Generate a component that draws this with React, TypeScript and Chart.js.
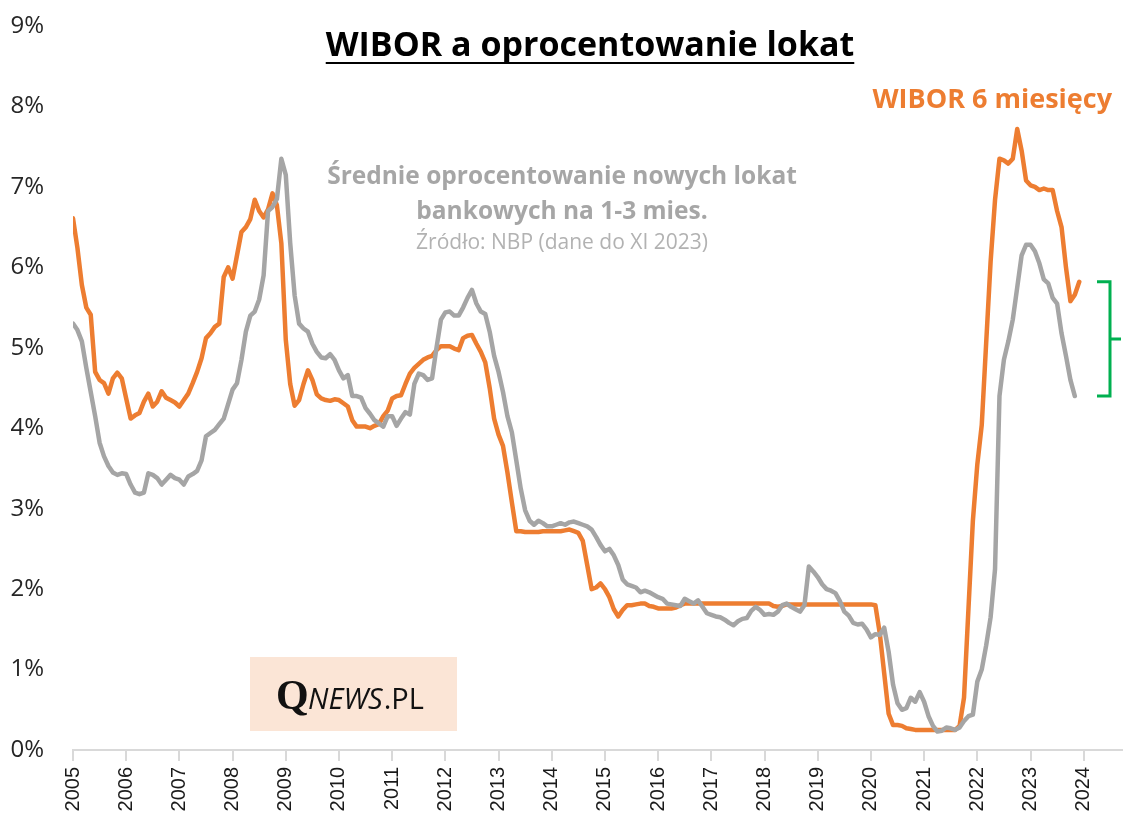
import { useEffect, useRef } from "react";
import { Chart, registerables } from "chart.js";

Chart.register(...registerables);

// Monthly data, first value = January 2005
const START_YEAR = 2005;

// WIBOR 6M (%), Jan 2005 - Dec 2023
const wibor6m = [
  6.61, 6.24, 5.78, 5.5, 5.41, 4.7, 4.6, 4.56, 4.43, 4.62, 4.69, 4.62,
  4.37, 4.12, 4.16, 4.19, 4.33, 4.43, 4.27, 4.33, 4.46, 4.38, 4.35, 4.32,
  4.27, 4.35, 4.43, 4.56, 4.7, 4.87, 5.12, 5.18, 5.26, 5.3, 5.88, 6.0,
  5.86, 6.15, 6.44, 6.5, 6.6, 6.84, 6.7, 6.62, 6.72, 6.92, 6.77, 6.3,
  5.1, 4.55, 4.28, 4.35, 4.55, 4.72, 4.6, 4.42, 4.37, 4.35, 4.34, 4.36,
  4.35, 4.31, 4.27, 4.1, 4.02, 4.02, 4.02, 4.0, 4.03, 4.05, 4.15, 4.22,
  4.37, 4.4, 4.41, 4.55, 4.68, 4.75, 4.8, 4.85, 4.88, 4.9, 4.97, 5.02,
  5.02, 5.02, 4.99, 4.97, 5.12, 5.15, 5.16, 5.05, 4.95, 4.82, 4.5, 4.12,
  3.92, 3.78, 3.45, 3.08, 2.72, 2.72, 2.71, 2.71, 2.71, 2.71, 2.72, 2.72,
  2.72, 2.72, 2.72, 2.73, 2.74, 2.72, 2.7, 2.6, 2.3, 2.0, 2.02, 2.07,
  2.0, 1.9, 1.75, 1.66, 1.74, 1.8, 1.8, 1.81, 1.82, 1.82, 1.79, 1.78,
  1.76, 1.76, 1.76, 1.76, 1.77, 1.8, 1.82, 1.82, 1.82, 1.82, 1.82, 1.82,
  1.82, 1.82, 1.82, 1.82, 1.82, 1.82, 1.82, 1.82, 1.82, 1.82, 1.82, 1.82,
  1.82, 1.82, 1.79, 1.78, 1.79, 1.81, 1.81, 1.81, 1.81, 1.81, 1.81, 1.81,
  1.81, 1.81, 1.81, 1.81, 1.81, 1.81, 1.81, 1.81, 1.81, 1.81, 1.81, 1.81,
  1.81, 1.8, 1.45, 0.95, 0.45, 0.31, 0.31, 0.3, 0.27, 0.26, 0.25, 0.25,
  0.25, 0.25, 0.25, 0.25, 0.25, 0.25, 0.25, 0.25, 0.3, 0.65, 1.75, 2.85,
  3.55, 4.04, 5.06, 6.07, 6.84, 7.35, 7.33, 7.29, 7.35, 7.72, 7.45, 7.08,
  7.02, 7.0, 6.96, 6.98, 6.96, 6.96, 6.7, 6.5, 6.0, 5.58, 5.66, 5.82,
];

// Average rate on new 1-3 month bank deposits (%), Jan 2005 - Nov 2023
const deposits = [
  5.3, 5.22, 5.08, 4.75, 4.45, 4.15, 3.82, 3.65, 3.53, 3.45, 3.42, 3.44,
  3.43, 3.3, 3.2, 3.18, 3.2, 3.44, 3.42, 3.38, 3.3, 3.36, 3.42, 3.38,
  3.36, 3.3, 3.4, 3.43, 3.47, 3.6, 3.9, 3.94, 3.98, 4.05, 4.12, 4.3,
  4.48, 4.56, 4.85, 5.2, 5.4, 5.45, 5.6, 5.9, 6.7, 6.75, 6.85, 7.35,
  7.15, 6.3, 5.65, 5.3, 5.24, 5.2, 5.05, 4.95, 4.88, 4.87, 4.92, 4.85,
  4.72, 4.62, 4.66, 4.4, 4.4, 4.38, 4.25, 4.18, 4.1, 4.06, 4.02, 4.15,
  4.15, 4.03, 4.12, 4.2, 4.17, 4.55, 4.68, 4.66, 4.6, 4.62, 5.0, 5.35,
  5.44, 5.45, 5.4, 5.4, 5.5, 5.62, 5.72, 5.55, 5.45, 5.42, 5.2, 4.9,
  4.7, 4.45, 4.15, 3.95, 3.6, 3.25, 2.98, 2.85, 2.8, 2.85, 2.82, 2.78,
  2.78, 2.8, 2.82, 2.8, 2.83, 2.84, 2.82, 2.8, 2.78, 2.74, 2.65, 2.55,
  2.47, 2.5, 2.42, 2.3, 2.12, 2.06, 2.04, 2.02, 1.96, 1.98, 1.96, 1.93,
  1.9, 1.88, 1.82, 1.81, 1.8, 1.79, 1.88, 1.85, 1.82, 1.86, 1.78, 1.7,
  1.68, 1.66, 1.65, 1.62, 1.58, 1.55, 1.6, 1.63, 1.64, 1.73, 1.78, 1.74,
  1.68, 1.69, 1.68, 1.72, 1.8, 1.82, 1.78, 1.75, 1.72, 1.8, 2.28, 2.22,
  2.15, 2.06, 2.0, 1.98, 1.95, 1.85, 1.72, 1.67, 1.58, 1.56, 1.57, 1.5,
  1.4, 1.44, 1.43, 1.52, 1.22, 0.81, 0.58, 0.5, 0.52, 0.65, 0.6, 0.72,
  0.6, 0.42, 0.3, 0.23, 0.24, 0.28, 0.27, 0.25, 0.28, 0.36, 0.42, 0.44,
  0.85, 1.0, 1.3, 1.65, 2.25, 4.4, 4.85, 5.08, 5.35, 5.75, 6.15, 6.28,
  6.28, 6.2, 6.05, 5.85, 5.8, 5.62, 5.55, 5.18, 4.9, 4.6, 4.4,
];

const yearTicks = [
  2005, 2006, 2007, 2008, 2009, 2010, 2011, 2012, 2013, 2014,
  2015, 2016, 2017, 2018, 2019, 2020, 2021, 2022, 2023, 2024,
];
const percentTicks = [0, 1, 2, 3, 4, 5, 6, 7, 8, 9];

const TITLE = "WIBOR a oprocentowanie lokat";
const WIBOR_LABEL = "WIBOR 6 miesięcy";
const DEPOSIT_LABEL = ["Średnie oprocentowanie nowych lokat", "bankowych na 1-3 mies."];
const SOURCE_LABEL = "Źródło: NBP (dane do XI 2023)";

const ORANGE = "#ED7D31";
const GRAY = "#A5A5A5";
const GREEN = "#00B050";

const toPoints = (values: number[]) =>
  values.map((v, i) => ({ x: START_YEAR + i / 12, y: v }));

const annotationPlugin = {
  id: "annotations",
  afterDraw(chart: any) {
    const ctx = chart.ctx as CanvasRenderingContext2D;
    const ys = chart.scales.y;
    ctx.save();

    // Title (underlined)
    ctx.fillStyle = "#000000";
    ctx.font = "bold 34px 'Open Sans'";
    ctx.textAlign = "center";
    ctx.textBaseline = "alphabetic";
    const tx = 590;
    ctx.fillText(TITLE, tx, 56);
    const tw = ctx.measureText(TITLE).width;
    ctx.fillRect(tx - tw / 2, 62, tw, 2);

    // WIBOR label
    ctx.fillStyle = ORANGE;
    ctx.font = "bold 27px 'Open Sans'";
    ctx.textAlign = "right";
    ctx.textBaseline = "middle";
    ctx.fillText(WIBOR_LABEL, 1112, 100);

    // Deposit label
    ctx.fillStyle = "#A6A6A6";
    ctx.font = "bold 24.5px 'Open Sans'";
    ctx.textAlign = "center";
    ctx.fillText(DEPOSIT_LABEL[0], 562, 177);
    ctx.fillText(DEPOSIT_LABEL[1], 562, 212);
    ctx.fillStyle = "#B2B2B2";
    ctx.font = "21px 'Open Sans'";
    ctx.fillText(SOURCE_LABEL, 562, 243);

    // Logo box
    ctx.fillStyle = "#FBE5D6";
    ctx.fillRect(250, 657, 207, 74);
    ctx.fillStyle = "#111111";
    ctx.textAlign = "left";
    ctx.textBaseline = "alphabetic";
    ctx.font = "bold 42px 'Liberation Serif'";
    ctx.fillText("Q", 276, 709);
    ctx.font = "italic 29px 'Open Sans'";
    ctx.fillText("NEWS", 308, 709);
    const nw = ctx.measureText("NEWS").width;
    ctx.font = "29px 'Open Sans'";
    ctx.fillText(".PL", 308 + nw + 1, 709);

    // Green bracket between latest WIBOR and latest deposit rate
    const yTop = ys.getPixelForValue(wibor6m[wibor6m.length - 1]);
    const yBot = ys.getPixelForValue(deposits[deposits.length - 1]);
    const xl = 1097;
    const xr = 1110;
    ctx.strokeStyle = GREEN;
    ctx.lineWidth = 3;
    ctx.lineCap = "butt";
    ctx.beginPath();
    ctx.moveTo(xl, yTop);
    ctx.lineTo(xr, yTop);
    ctx.lineTo(xr, yBot);
    ctx.lineTo(xl, yBot);
    ctx.moveTo(xr, (yTop + yBot) / 2);
    ctx.lineTo(1121, (yTop + yBot) / 2);
    ctx.stroke();

    ctx.restore();
  },
};

export default function App() {
  const canvasRef = useRef<HTMLCanvasElement | null>(null);

  useEffect(() => {
    const canvas = canvasRef.current;
    if (!canvas) return;
    const chart = new Chart(canvas, {
      type: "line",
      data: {
        datasets: [
          {
            label: "WIBOR 6 miesięcy",
            data: toPoints(wibor6m),
            borderColor: ORANGE,
            backgroundColor: ORANGE,
            borderWidth: 4.5,
            pointRadius: 0,
            tension: 0,
            borderJoinStyle: "round",
            borderCapStyle: "round",
            order: 1,
          },
          {
            label: "Lokaty 1-3 mies.",
            data: toPoints(deposits),
            borderColor: GRAY,
            backgroundColor: GRAY,
            borderWidth: 4.5,
            pointRadius: 0,
            tension: 0,
            borderJoinStyle: "round",
            borderCapStyle: "round",
            order: 0,
          },
        ],
      },
      options: {
        responsive: false,
        animation: false,
        layout: { padding: { top: 26, right: 3, left: 0, bottom: 0 } },
        plugins: {
          legend: { display: false },
          tooltip: { enabled: false },
        },
        scales: {
          x: {
            type: "linear",
            min: 2005,
            max: 2024.72,
            afterBuildTicks: (axis: any) => {
              axis.ticks = yearTicks.map((v) => ({ value: v }));
            },
            afterFit: (s: any) => {
              s.height = 70;
            },
            ticks: {
              autoSkip: false,
              maxRotation: 90,
              minRotation: 90,
              padding: 6,
              color: "#1a1a1a",
              font: { family: "'Liberation Sans'", size: 20 },
              callback: (v: any) => String(v),
            },
            grid: {
              display: true,
              drawOnChartArea: false,
              drawTicks: true,
              tickLength: 11,
              color: "#D9D9D9",
              lineWidth: 2,
            },
            border: { display: true, color: "#D9D9D9", width: 2 },
          },
          y: {
            min: 0,
            max: 9,
            afterBuildTicks: (axis: any) => {
              axis.ticks = percentTicks.map((v) => ({ value: v }));
            },
            afterFit: (s: any) => {
              s.width = 73;
              s.paddingTop = 0;
              s.paddingBottom = 0;
            },
            ticks: {
              padding: 29,
              color: "#262626",
              font: { family: "'Open Sans'", size: 24 },
              callback: (v: any) => v + "%",
            },
            grid: { display: false, drawTicks: false },
            border: { display: false },
          },
        },
      },
      plugins: [annotationPlugin],
    });
    return () => chart.destroy();
  }, []);

  return (
    <div
      style={{
        position: "absolute",
        left: 0,
        top: 0,
        width: 1125,
        height: 820,
        background: "#ffffff",
      }}
    >
      <canvas ref={canvasRef} width={1125} height={820} style={{ display: "block" }} />
    </div>
  );
}
